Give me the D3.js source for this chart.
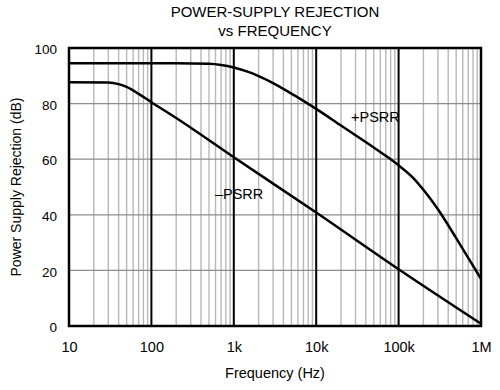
<!DOCTYPE html>
<html>
<head>
<meta charset="utf-8">
<title>Power-Supply Rejection vs Frequency</title>
<script src="https://cdnjs.cloudflare.com/ajax/libs/d3/7.8.5/d3.min.js"></script>
<style>
  body { margin: 0; background: #fff; }
  svg { font-family: Arial, "Liberation Sans", sans-serif; fill: #000; }
  .grid-minor { stroke: #b8b8b8; stroke-width: 1.4; }
  .grid-major { stroke: #000; stroke-width: 2; }
  .grid-h { stroke: #8c8c8c; stroke-width: 1.2; }
  .curve { fill: none; stroke: #000; stroke-width: 2.5; }
</style>
</head>
<body>
<div id="chart"></div>
<script>
// +PSRR (Hz, dB)
var posFreq = [10, 200, 500, 700, 1e3, 1.5e3, 2e3, 3e3, 5e3, 7e3, 1e4, 2e4, 3e4, 5e4, 7e4, 1e5, 1.5e5, 2e5, 3e5, 5e5, 7e5, 1e6];
var posDb   = [94.5, 94.5, 94.3, 93.9, 93.0, 91.4, 89.9, 87.4, 83.6, 81.0, 78.1, 72.1, 68.6, 64.2, 61.2, 57.8, 53.3, 49.0, 42.0, 31.6, 24.5, 17.0];

// -PSRR
var negFreq = [10, 30, 40, 50, 70, 100, 200, 1e3, 1e4, 1e5, 1e6];
var negDb   = [87.7, 87.6, 87.0, 86.0, 83.5, 80.5, 74.8, 60.7, 40.8, 20.4, 0.8];

var xTicks = [10, 100, 1e3, 1e4, 1e5, 1e6];
var xTickLabels = ["10", "100", "1k", "10k", "100k", "1M"];
var yTicks = [0, 20, 40, 60, 80, 100];

var W = 500, H = 390;
var margin = { left: 69, right: 19, top: 48, bottom: 64 };
var width = W - margin.left - margin.right;
var height = H - margin.top - margin.bottom;

var svg = d3.select("#chart").append("svg")
  .attr("width", W)
  .attr("height", H);

var g = svg.append("g")
  .attr("transform", "translate(" + margin.left + "," + margin.top + ")");

var x = d3.scaleLog().domain([10, 1e6]).range([0, width]);
var y = d3.scaleLinear().domain([0, 100]).range([height, 0]);

// minor vertical grid (2..9 of each decade)
var minors = [];
for (var dec = 10; dec < 1e6; dec *= 10) {
  for (var k = 2; k <= 9; k++) minors.push(dec * k);
}
g.selectAll(".grid-minor").data(minors).enter().append("line")
  .attr("class", "grid-minor")
  .attr("x1", function(d) { return x(d); })
  .attr("x2", function(d) { return x(d); })
  .attr("y1", 0).attr("y2", height);

g.selectAll(".grid-h").data(yTicks.slice(1, -1)).enter().append("line")
  .attr("class", "grid-h")
  .attr("x1", 0).attr("x2", width)
  .attr("y1", function(d) { return y(d); })
  .attr("y2", function(d) { return y(d); });

g.selectAll(".grid-major").data(xTicks.slice(1, -1)).enter().append("line")
  .attr("class", "grid-major")
  .attr("x1", function(d) { return x(d); })
  .attr("x2", function(d) { return x(d); })
  .attr("y1", 0).attr("y2", height);

// curves
var line = d3.line()
  .x(function(d) { return x(d[0]); })
  .y(function(d) { return y(d[1]); })
  .curve(d3.curveMonotoneX);

g.append("path").attr("class", "curve")
  .attr("d", line(d3.zip(posFreq, posDb)));
g.append("path").attr("class", "curve")
  .attr("d", line(d3.zip(negFreq, negDb)));

// frame
g.append("rect")
  .attr("width", width).attr("height", height)
  .attr("fill", "none").attr("stroke", "#000").attr("stroke-width", 2.5);

// axes (labels only)
var xAxis = d3.axisBottom(x).tickValues(xTicks)
  .tickFormat(function(d, i) { return xTickLabels[i]; })
  .tickSize(0).tickPadding(16);
var gx = g.append("g").attr("transform", "translate(0," + height + ")").call(xAxis);
gx.select(".domain").remove();
gx.selectAll("text").attr("font-size", 14.5).attr("font-family", "Arial, 'Liberation Sans', sans-serif").attr("fill", "#000");

var yAxis = d3.axisLeft(y).tickValues(yTicks).tickSize(0).tickPadding(12);
var gy = g.append("g").call(yAxis);
gy.select(".domain").remove();
gy.selectAll("text").attr("font-size", 13.5).attr("font-family", "Arial, 'Liberation Sans', sans-serif").attr("fill", "#000").attr("dy", "0.42em");

// titles
svg.append("text").attr("x", margin.left + width / 2).attr("y", 17)
  .attr("text-anchor", "middle").attr("font-size", 15).text("POWER-SUPPLY REJECTION");
svg.append("text").attr("x", margin.left + width / 2).attr("y", 36)
  .attr("text-anchor", "middle").attr("font-size", 15).text("vs FREQUENCY");

svg.append("text").attr("x", margin.left + width / 2).attr("y", 378)
  .attr("text-anchor", "middle").attr("font-size", 14.5).text("Frequency (Hz)");
svg.append("text")
  .attr("transform", "translate(21," + (margin.top + height / 2) + ") rotate(-90)")
  .attr("text-anchor", "middle").attr("font-size", 14).text("Power Supply Rejection (dB)");

// curve labels
g.append("text").attr("x", x(2.65e4)).attr("y", y(73.4))
  .attr("font-size", 14.5).text("+PSRR");
g.append("text").attr("x", x(590)).attr("y", y(45.7))
  .attr("font-size", 14.5).text("\u2013PSRR");
</script>
</body>
</html>
